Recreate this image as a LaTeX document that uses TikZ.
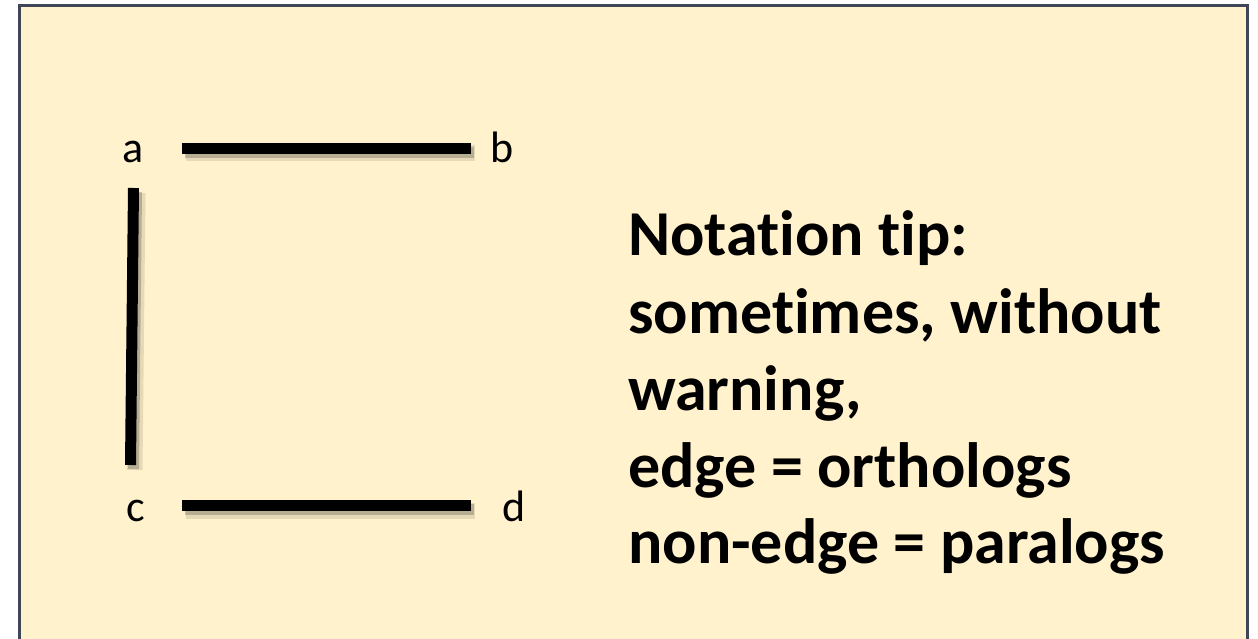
\documentclass[tikz,border=0pt]{standalone}
\usepackage{fontspec}
\setmainfont{Carlito}[Ligatures=CommonOff]
\definecolor{panelfill}{HTML}{FFF2CC}
\definecolor{panelborder}{HTML}{3E4658}
\begin{document}
\begin{tikzpicture}[x=1pt,y=-1pt,
  panel/.style={draw=panelborder,line width=3pt,fill=panelfill},
  vlabel/.style={inner sep=0pt,anchor=base,font=\fontsize{44}{52}\selectfont},
  tipline/.style={inner sep=0pt,anchor=base west,font=\fontsize{64}{77}\selectfont\bfseries},
  edgeline/.style={line width=11pt,black},
  edgeshadow/.style={line width=16pt,black,opacity=0.10},
  edgeshadowcore/.style={line width=11pt,black,opacity=0.20}]
\useasboundingbox (0,0) rectangle (1258,639);
\fill[white] (0,0) rectangle (1258,639);
\draw[panel] (19.5,5.5) rectangle (1247.5,660);
% labels
\node[vlabel] (a) at (133,163) {a};
\node[vlabel] (b) at (502,163) {b};
\node[vlabel] (c) at (136,521) {c};
\node[vlabel] (d) at (514,521) {d};
% endpoints
\coordinate (ab1) at (182,148.5);
\coordinate (ab2) at (471,148.5);
\coordinate (cd1) at (182,505.5);
\coordinate (cd2) at (471,505.5);
\coordinate (ac1) at (133.5,188);
\coordinate (ac2) at (130.5,465);
% shadows
\foreach \p/\q in {ab1/ab2,cd1/cd2,ac1/ac2}{
  \draw[edgeshadow] ([shift={(4,5)}]\p) -- ([shift={(4,5)}]\q);
  \draw[edgeshadowcore] ([shift={(3,4)}]\p) -- ([shift={(3,4)}]\q);
}
% edges
\draw[edgeline] (ab1) -- (ab2);
\draw[edgeline] (cd1) -- (cd2);
\draw[edgeline] (ac1) -- (ac2);
% text
\node[tipline] (t1) at (628,255) {Notation tip:};
\node[tipline] (t2) at (628,333) {sometimes, without};
\node[tipline] (t3) at (628,410) {warning,};
\node[tipline] (t4) at (628,487) {edge = orthologs};
\node[tipline] (t5) at (628,563) {non-edge = paralogs};
\end{tikzpicture}
\end{document}
